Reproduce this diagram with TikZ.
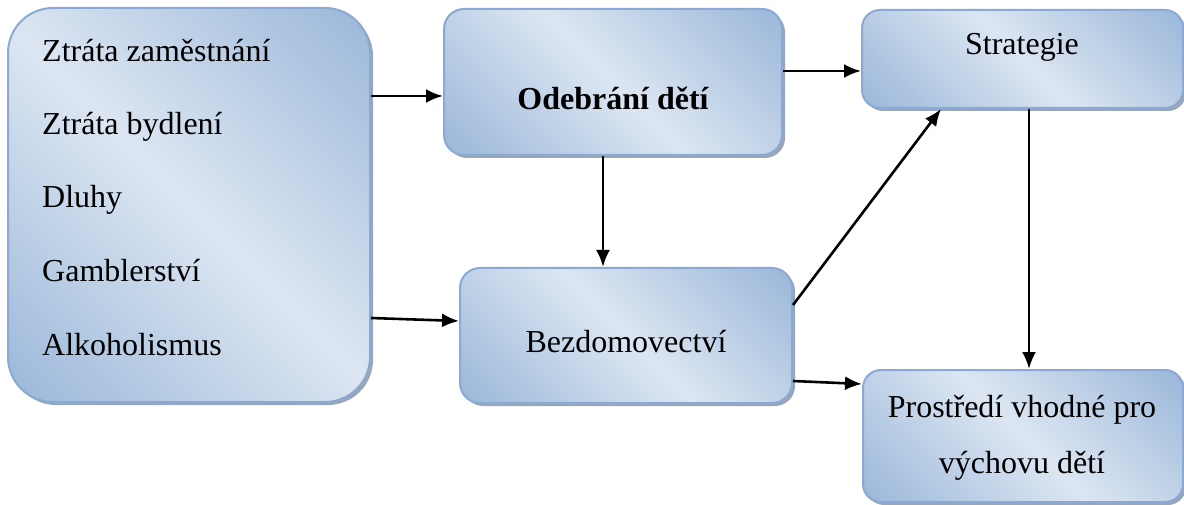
\documentclass[tikz,border=0pt]{standalone}
\usepackage{fontspec}
\setmainfont{Liberation Serif}
\usetikzlibrary{arrows.meta,shadows}
\definecolor{boxdark}{HTML}{95B3D7}
\definecolor{boxlight}{HTML}{DCE6F2}
\definecolor{boxedge}{HTML}{8AA9D4}
\definecolor{shadowc}{HTML}{9AA6B6}
\pgfdeclareverticalshading{officeblue}{100bp}{color(0bp)=(boxdark); color(12bp)=(boxdark); color(50bp)=(boxlight); color(88bp)=(boxdark); color(100bp)=(boxdark)}
\tikzset{
  box/.style={draw=boxedge, line width=2pt, inner sep=0pt,
    shading=officeblue, shading angle=-45,
    drop shadow={shadow xshift=3pt, shadow yshift=-3pt, fill=shadowc, opacity=1}},
  txt/.style={font=\fontsize{32}{38}\selectfont, inner sep=0pt},
  arr/.style={line width=2.6pt, -{Latex[length=17pt,width=14pt]}}
}
\begin{document}
\begin{tikzpicture}[x=1pt,y=-1pt]
\useasboundingbox (0,0) rectangle (1184,505);
% boxes
\node[box, rounded corners=45pt, minimum width=362pt, minimum height=394pt] (big) at (189,205) {};
\node[box, rounded corners=20pt, minimum width=338pt, minimum height=146pt] (odeb) at (613,82) {};
\node[box, rounded corners=20pt, minimum width=332pt, minimum height=135pt] (bez) at (626,335.5) {};
\node[box, rounded corners=18pt, minimum width=321pt, minimum height=98pt] (strat) at (1022.5,59) {};
\node[box, rounded corners=18pt, minimum width=320pt, minimum height=132pt] (prost) at (1023,436) {};
% texts
\node[txt, anchor=base west] (t1) at (42,62) {Ztráta zaměstnání};
\node[txt, anchor=base west] (t2) at (42,135) {Ztráta bydlení};
\node[txt, anchor=base west] (t3) at (42,208) {Dluhy};
\node[txt, anchor=base west] (t4) at (42,282) {Gamblerství};
\node[txt, anchor=base west] (t5) at (42,355) {Alkoholismus};
\node[txt, anchor=base, font=\fontsize{32}{38}\selectfont\bfseries] (todeb) at (613,110) {Odebrání dětí};
\node[txt, anchor=base] (tbez) at (626,352) {Bezdomovectví};
\node[txt, anchor=base] (tstrat) at (1022,55) {Strategie};
\node[txt, anchor=base] (tprost1) at (1022,417) {Prostředí vhodné pro};
\node[txt, anchor=base] (tprost2) at (1022,473) {výchovu dětí};
% arrows
\draw[arr] (big.east |- 0,96) -- (odeb.west |- 0,96);
\draw[arr] (big.east |- 0,318) -- (bez.west |- 0,321);
\draw[arr] (odeb.east |- 0,71) -- (strat.west |- 0,71);
\draw[arr] (odeb.south -| 603,0) -- (bez.north -| 603,0);
\draw[arr] (bez.east |- 0,305) -- (strat.south -| 941,0);
\draw[arr] (bez.east |- 0,381) -- (prost.west |- 0,384);
\draw[arr] (strat.south -| 1029,0) -- (prost.north -| 1029,0);
\end{tikzpicture}
\end{document}
